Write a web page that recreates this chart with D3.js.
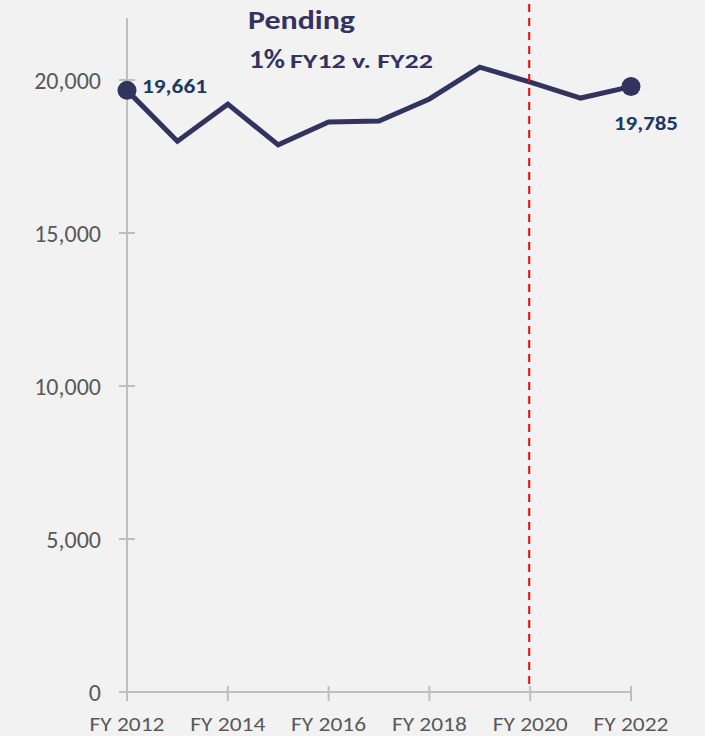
<!DOCTYPE html>
<html>
<head>
<meta charset="utf-8">
<script src="https://cdn.jsdelivr.net/npm/d3@7"></script>
<style>
  body { margin: 0; background: #f2f2f2; }
  svg { display: block; }
</style>
</head>
<body>
<script>
var years = [2012, 2013, 2014, 2015, 2016, 2017, 2018, 2019, 2020, 2021, 2022];
var pending = [19661, 18000, 19210, 17880, 18630, 18660, 19380, 20420, 19930, 19410, 19785];
var yTicks = [0, 5000, 10000, 15000, 20000];
var xTicks = [2012, 2014, 2016, 2018, 2020, 2022];
var markerYear = 2020;

var W = 705, H = 736;
var navy = '#33335f';
var font = 'Carlito, Calibri, Lato, sans-serif';

var svg = d3.select('body').append('svg').attr('width', W).attr('height', H);
svg.append('rect').attr('width', W).attr('height', H).attr('fill', '#f2f2f2');

var x = d3.scaleLinear().domain([2012, 2022]).range([127, 631]);
var y = d3.scaleLinear().domain([0, 20000]).range([692, 80]);

// axes
svg.append('line').attr('x1', 127).attr('x2', 127).attr('y1', 18).attr('y2', 692)
  .attr('stroke', '#bfbfbf').attr('stroke-width', 2);
svg.append('line').attr('x1', 119).attr('x2', 632).attr('y1', 692).attr('y2', 692)
  .attr('stroke', '#bfbfbf').attr('stroke-width', 2);

svg.selectAll('.ytick').data(yTicks).enter().append('line')
  .attr('x1', 119).attr('x2', 135)
  .attr('y1', d => y(d)).attr('y2', d => y(d))
  .attr('stroke', '#bfbfbf').attr('stroke-width', 2);

svg.selectAll('.ylab').data(yTicks).enter().append('text')
  .attr('x', 101).attr('y', d => y(d) + 9)
  .attr('text-anchor', 'end')
  .attr('font-family', font).attr('font-size', 24).attr('fill', '#595959')
  .text(d => d3.format(',')(d));

svg.selectAll('.xtick').data(xTicks).enter().append('line')
  .attr('x1', d => x(d)).attr('x2', d => x(d))
  .attr('y1', 686).attr('y2', 701)
  .attr('stroke', '#bfbfbf').attr('stroke-width', 2);

svg.selectAll('.xlab').data(xTicks).enter().append('text')
  .attr('x', d => x(d)).attr('y', 731)
  .attr('text-anchor', 'middle')
  .attr('font-family', font).attr('font-size', 21).attr('fill', '#595959')
  .attr('textLength', 75).attr('lengthAdjust', 'spacingAndGlyphs')
  .text(d => 'FY ' + d);

var line = d3.line().x((d, i) => x(years[i])).y(d => y(d));
svg.append('path').datum(pending).attr('d', line)
  .attr('fill', 'none').attr('stroke', navy).attr('stroke-width', 5)
  .attr('stroke-linejoin', 'miter');

// red dashed marker
svg.append('line').attr('x1', x(markerYear) - 1).attr('x2', x(markerYear) - 1)
  .attr('y1', 4).attr('y2', 686)
  .attr('stroke', '#ff0000').attr('stroke-width', 2).attr('stroke-dasharray', '8,6');

var ends = [0, years.length - 1];
svg.selectAll('.dot').data(ends).enter().append('circle')
  .attr('cx', i => x(years[i])).attr('cy', i => y(pending[i])).attr('r', 9.5)
  .attr('fill', navy);

svg.append('text').attr('x', 142).attr('y', 93)
  .attr('font-family', font).attr('font-size', 21).attr('font-weight', 'bold').attr('fill', '#203864')
  .attr('textLength', 65).attr('lengthAdjust', 'spacingAndGlyphs')
  .text(d3.format(',')(pending[0]));
svg.append('text').attr('x', 614).attr('y', 130)
  .attr('font-family', font).attr('font-size', 21).attr('font-weight', 'bold').attr('fill', '#203864')
  .attr('textLength', 64).attr('lengthAdjust', 'spacingAndGlyphs')
  .text(d3.format(',')(pending[pending.length - 1]));

// title
svg.append('text').attr('x', 248).attr('y', 29)
  .attr('font-family', font).attr('font-size', 27).attr('font-weight', 'bold').attr('fill', navy)
  .attr('textLength', 107).attr('lengthAdjust', 'spacingAndGlyphs')
  .text('Pending');
svg.append('text').attr('x', 249).attr('y', 68)
  .attr('font-family', font).attr('font-size', 26).attr('font-weight', 'bold').attr('fill', navy)
  .attr('textLength', 36).attr('lengthAdjust', 'spacingAndGlyphs')
  .text('1%');
svg.append('text').attr('x', 290).attr('y', 68)
  .attr('font-family', font).attr('font-size', 20).attr('font-weight', 'bold').attr('fill', navy)
  .attr('textLength', 143).attr('lengthAdjust', 'spacingAndGlyphs')
  .text('FY12 v. FY22');
</script>
</body>
</html>
